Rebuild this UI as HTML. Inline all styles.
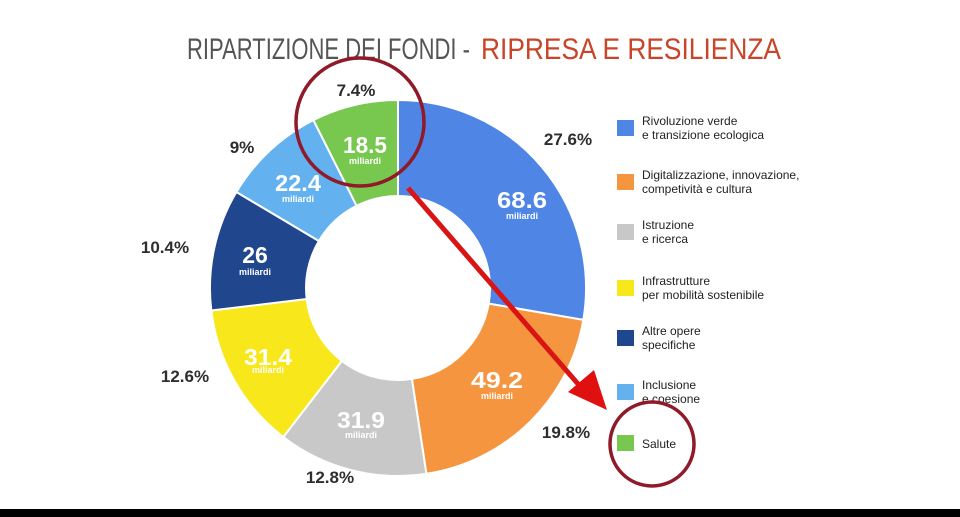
<!DOCTYPE html>
<html><head><meta charset="utf-8"><style>
html,body{margin:0;padding:0;background:#fff;}
svg{display:block;}
.pct{font-family:"Liberation Sans",sans-serif;font-weight:bold;font-size:17px;fill:#2e2e2e;text-anchor:middle;}
.val{font-family:"Liberation Sans",sans-serif;font-weight:bold;font-size:23px;fill:#fff;text-anchor:middle;}
.mil{font-family:"Liberation Sans",sans-serif;font-weight:bold;font-size:9px;fill:#fff;text-anchor:middle;}
.leg{font-family:"Liberation Sans",sans-serif;font-size:12px;fill:#222;}
</style></head><body>
<svg id="s" width="960" height="517" viewBox="0 0 960 517" xmlns="http://www.w3.org/2000/svg">
<text x="187" y="59" font-family="Liberation Sans,sans-serif" font-size="30" fill="#555" textLength="283" lengthAdjust="spacingAndGlyphs">RIPARTIZIONE DEI FONDI -</text>
<text x="481" y="59" font-family="Liberation Sans,sans-serif" font-size="30" fill="#c8452a" textLength="300" lengthAdjust="spacingAndGlyphs">RIPRESA E RESILIENZA</text>
<g id="donut"></g>
<g>
<text class="val" x="365" y="153" textLength="44" lengthAdjust="spacingAndGlyphs">18.5</text><text class="mil" x="365" y="164">miliardi</text>
<text class="val" x="522" y="208" textLength="50" lengthAdjust="spacingAndGlyphs">68.6</text><text class="mil" x="522" y="219">miliardi</text>
<text class="val" x="298" y="191" textLength="46" lengthAdjust="spacingAndGlyphs">22.4</text><text class="mil" x="298" y="202">miliardi</text>
<text class="val" x="255" y="263">26</text><text class="mil" x="255" y="275">miliardi</text>
<text class="val" x="268" y="365" textLength="48" lengthAdjust="spacingAndGlyphs">31.4</text><text class="mil" x="268" y="373" fill="#fff">miliardi</text>
<text class="val" x="361" y="428" textLength="48" lengthAdjust="spacingAndGlyphs">31.9</text><text class="mil" x="361" y="438">miliardi</text>
<text class="val" x="497" y="388" textLength="52" lengthAdjust="spacingAndGlyphs">49.2</text><text class="mil" x="497" y="399">miliardi</text>
</g>
<g>
<text class="pct" x="356" y="96">7.4%</text>
<text class="pct" x="568" y="145">27.6%</text>
<text class="pct" x="242" y="153">9%</text>
<text class="pct" x="165" y="253">10.4%</text>
<text class="pct" x="185" y="382">12.6%</text>
<text class="pct" x="330" y="483">12.8%</text>
<text class="pct" x="566" y="438">19.8%</text>
</g>
<g>
<rect x="617" y="120" width="17" height="16" fill="#4f86e6"/>
<text class="leg" x="642" y="125">Rivoluzione verde</text><text class="leg" x="642" y="139">e transizione ecologica</text>
<rect x="617" y="174" width="17" height="16" fill="#f5953f"/>
<text class="leg" x="642" y="179">Digitalizzazione, innovazione,</text><text class="leg" x="642" y="193">competività e cultura</text>
<rect x="617" y="224" width="17" height="16" fill="#c8c8c8"/>
<text class="leg" x="642" y="229">Istruzione</text><text class="leg" x="642" y="243">e ricerca</text>
<rect x="617" y="280" width="17" height="16" fill="#f8e71a"/>
<text class="leg" x="642" y="285">Infrastrutture</text><text class="leg" x="642" y="299">per mobilità sostenibile</text>
<rect x="617" y="330" width="17" height="16" fill="#20468e"/>
<text class="leg" x="642" y="335">Altre opere</text><text class="leg" x="642" y="349">specifiche</text>
<rect x="617" y="384" width="17" height="16" fill="#63b2ef"/>
<text class="leg" x="642" y="389">Inclusione</text><text class="leg" x="642" y="403">e coesione</text>
<rect x="617" y="435" width="17" height="16" fill="#78c850"/>
<text class="leg" x="642" y="448">Salute</text>
</g>
<circle cx="360" cy="122" r="64" fill="none" stroke="#8e1a2a" stroke-width="3.5"/>
<circle cx="652" cy="444" r="42" fill="none" stroke="#8e1a2a" stroke-width="3.5"/>
<line x1="408" y1="188" x2="585" y2="392" stroke="#d81414" stroke-width="5"/>
<polygon points="607,410 568,392 594,370" fill="#e01010"/>
<rect x="0" y="509" width="960" height="8" fill="#000"/>
</svg>
<script>
var cx=398,cy=288,ri=92,ro=188;
var d=[[27.6,"#4f86e6"],[19.8,"#f5953f"],[12.8,"#c8c8c8"],[12.6,"#f8e71a"],[10.4,"#20468e"],[9,"#63b2ef"],[7.4,"#78c850"]];
var tot=0;d.forEach(function(e){tot+=e[0];});
var a=0,g=document.getElementById("donut"),h="";
function p(r,ang){var t=(ang-90)*Math.PI/180;return (cx+r*Math.cos(t)).toFixed(1)+","+(cy+r*Math.sin(t)).toFixed(1);}
d.forEach(function(e){var b=a+e[0]/tot*360;var l=(b-a)>180?1:0;
h+='<path d="M'+p(ro,a)+' A'+ro+','+ro+' 0 '+l+' 1 '+p(ro,b)+' L'+p(ri,b)+' A'+ri+','+ri+' 0 '+l+' 0 '+p(ri,a)+' Z" fill="'+e[1]+'" stroke="#fff" stroke-width="2"/>';a=b;});
g.innerHTML=h;
</script>
</body></html>
